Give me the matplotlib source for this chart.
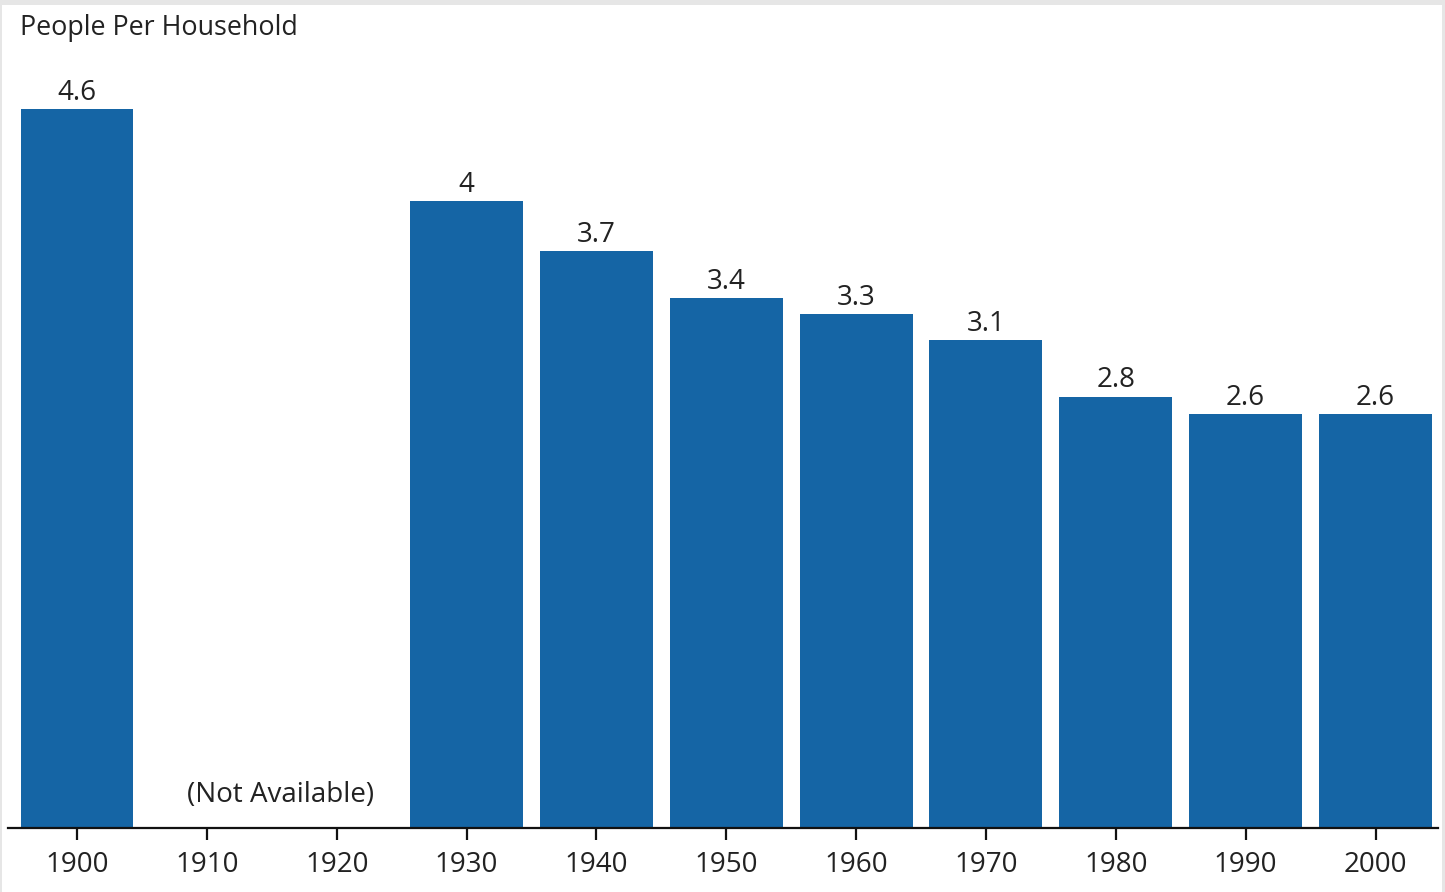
import matplotlib
matplotlib.use("Agg")
import matplotlib.pyplot as plt
from matplotlib.patches import Rectangle

years = ["1900", "1910", "1920", "1930", "1940", "1950", "1960", "1970", "1980", "1990", "2000"]
people = [4.6, None, None, 4.01, 3.69, 3.39, 3.29, 3.12, 2.76, 2.65, 2.65]
labels = ["4.6", "", "", "4", "3.7", "3.4", "3.3", "3.1", "2.8", "2.6", "2.6"]
missing_note = "(Not Available)"
title = "People Per Household"

W, H = 1445, 892
blue = "#1565a5"
ink = "#222222"
fs = 20

plt.rcParams['font.family'] = ['Open Sans', 'DejaVu Sans']

fig = plt.figure(figsize=(W / 100, H / 100), dpi=100)
fig.patch.set_facecolor("#e6e6e6")
# white panel inside the light grey frame
fig.patches.append(Rectangle((2 / W, 0), 1440 / W, (H - 5) / H,
                             transform=fig.transFigure, facecolor="white",
                             edgecolor="none", zorder=-10))

# axes placement in pixels
x0, x1 = 8, 1438
y_base, y_top = 828, 60
ax = fig.add_axes([x0 / W, (H - y_base) / H, (x1 - x0) / W, (y_base - y_top) / H])
ax.set_facecolor("none")

step = 129.85
c0 = 77
ax.set_xlim((x0 - c0) / step, (x1 - c0) / step)
ax.set_ylim(0, (y_base - y_top) / 156.3)

xs = list(range(len(years)))
bx = [x for x, v in zip(xs, people) if v is not None]
bv = [v for v in people if v is not None]
ax.bar(bx, bv, width=0.87, color=blue, zorder=2)

for x, v, lab in zip(xs, people, labels):
    if v is None:
        continue
    ax.annotate(lab, (x, v), xytext=(0, 6.6), textcoords="offset points",
                ha="center", va="baseline", fontsize=fs, color=ink)

ax.text(1.57, 0.166, missing_note, ha="center", va="baseline",
        fontsize=fs, color=ink)

for s in ["top", "right", "left"]:
    ax.spines[s].set_visible(False)
ax.spines["bottom"].set_linewidth(1.6)
ax.spines["bottom"].set_color("#111111")
ax.set_yticks([])
ax.set_xticks(xs)
ax.set_xticklabels(years, fontsize=fs, color=ink)
ax.tick_params(axis="x", length=8.5, width=1.6, color="#111111", pad=8)

fig.text(20 / W, 1 - 35 / H, title, ha="left", va="baseline",
         fontsize=19.4, color=ink)

fig.savefig("out.png", dpi=100)
